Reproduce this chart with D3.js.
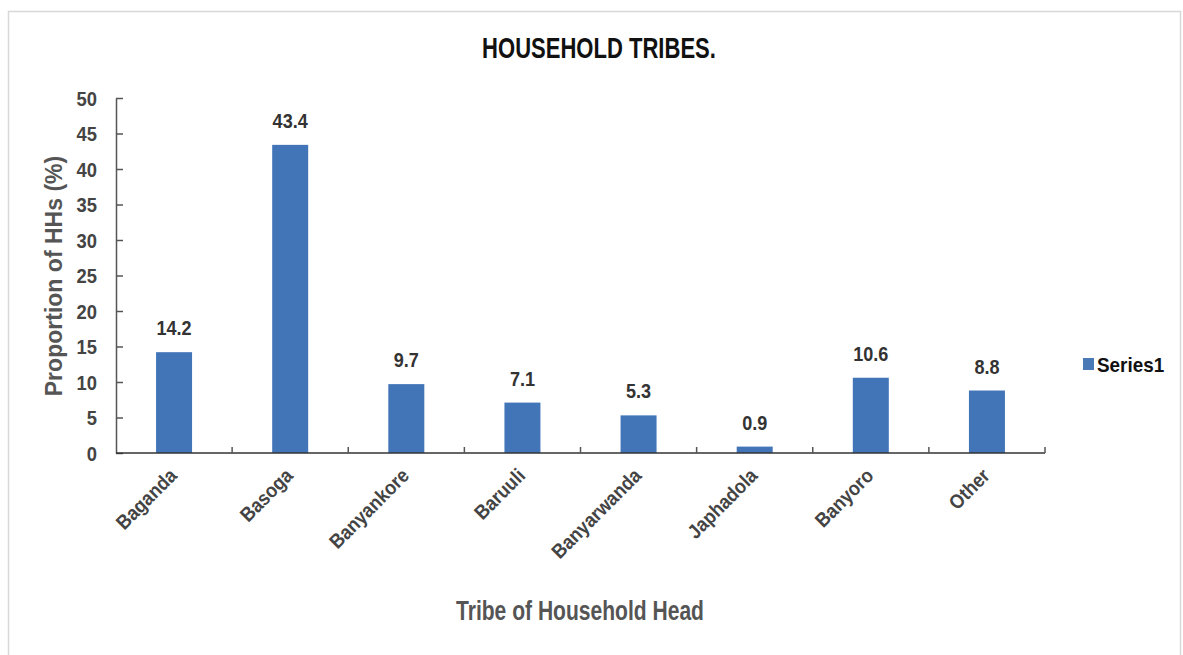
<!DOCTYPE html>
<html>
<head>
<meta charset="utf-8">
<script src="https://cdn.jsdelivr.net/npm/d3@7"></script>
<style>
  body { margin: 0; background: #fff; }
  svg { display: block; }
  text { font-family: "Liberation Sans", Arial, sans-serif; font-weight: bold; }
</style>
</head>
<body>
<div id="chart"></div>
<script>
// chart data
var tribes = ["Baganda", "Basoga", "Banyankore", "Baruuli", "Banyarwanda", "Japhadola", "Banyoro", "Other"];
var proportions = [14.2, 43.4, 9.7, 7.1, 5.3, 0.9, 10.6, 8.8];
var yTicks = [0, 5, 10, 15, 20, 25, 30, 35, 40, 45, 50];
var seriesName = "Series1";

var width = 1183, height = 655;
var margin = {top: 98, left: 116, right: 138, bottom: 202};
var barColour = "#4275b8";

var svg = d3.select("#chart").append("svg")
    .attr("width", width)
    .attr("height", height);

// faint outer frame
svg.append("rect")
    .attr("x", 8.5).attr("y", 11.5)
    .attr("width", 1172).attr("height", 660)
    .style("fill", "none")
    .style("stroke", "#d8d8d8")
    .style("stroke-width", 1.5);

var x = d3.scaleBand()
    .domain(tribes)
    .range([margin.left, width - margin.right])
    .paddingInner(0.69)
    .paddingOuter(0.345);

var y = d3.scaleLinear()
    .domain([0, 50])
    .range([height - margin.bottom, margin.top]);

var g = svg.append("g");

// bars
g.selectAll(".bar")
    .data(tribes)
    .enter().append("rect")
    .attr("class", "bar")
    .attr("x", function(d) { return x(d); })
    .attr("y", function(d, i) { return y(proportions[i]); })
    .attr("width", x.bandwidth())
    .attr("height", function(d, i) { return y(0) - y(proportions[i]); })
    .style("fill", barColour);

// value labels (the source font is a tall, narrow one, so squeeze horizontally)
g.selectAll(".val")
    .data(tribes)
    .enter().append("text")
    .attr("transform", function(d, i) {
      return "translate(" + (x(d) + x.bandwidth() / 2) + "," + (y(proportions[i]) - 17) + ") scale(0.86,1)";
    })
    .attr("text-anchor", "middle")
    .style("font-size", "21px")
    .style("fill", "#333")
    .text(function(d, i) { return proportions[i]; });

// y axis, ticks pointing inward
var yAxis = g.append("g")
    .attr("transform", "translate(" + margin.left + ",0)")
    .call(d3.axisRight(y).tickValues(yTicks).tickSize(7).tickSizeOuter(0));
yAxis.select(".domain").style("stroke", "#555").style("stroke-width", 1.5);
yAxis.selectAll(".tick line").style("stroke", "#555").style("stroke-width", 1.5);
yAxis.selectAll(".tick text")
    .attr("x", 0)
    .attr("dy", "0.36em")
    .attr("transform", "translate(-19,0) scale(0.92,1)")
    .attr("text-anchor", "end")
    .style("font-size", "20px")
    .style("fill", "#444");

// x axis with small upward ticks at the category boundaries
var step = x.step();
var bounds = tribes.map(function(d) { return x(d) + x.bandwidth() / 2 + step / 2; });
var xAxis = g.append("g");
xAxis.append("line")
    .attr("x1", margin.left).attr("x2", width - margin.right)
    .attr("y1", y(0)).attr("y2", y(0))
    .style("stroke", "#333").style("stroke-width", 1.5);
xAxis.selectAll(".xt")
    .data(bounds)
    .enter().append("line")
    .attr("x1", function(d) { return d; }).attr("x2", function(d) { return d; })
    .attr("y1", y(0)).attr("y2", y(0) - 6)
    .style("stroke", "#555").style("stroke-width", 1.5);

// rotated category labels
xAxis.selectAll(".xl")
    .data(tribes)
    .enter().append("text")
    .attr("text-anchor", "end")
    .attr("transform", function(d) {
      return "translate(" + (x(d) + x.bandwidth() / 2 + 4) + "," + (y(0) + 24) + ") rotate(-45) scale(0.9,1)";
    })
    .style("font-size", "20px")
    .style("fill", "#444")
    .text(function(d) { return d; });

// title
svg.append("text")
    .attr("transform", "translate(599,58) scale(0.76,1)")
    .attr("text-anchor", "middle")
    .style("font-size", "29px")
    .style("fill", "#111")
    .text("HOUSEHOLD TRIBES.");

// axis titles
svg.append("text")
    .attr("transform", "translate(62,276) rotate(-90) scale(0.96,1)")
    .attr("text-anchor", "middle")
    .style("font-size", "24px")
    .style("fill", "#555")
    .text("Proportion of HHs (%)");

svg.append("text")
    .attr("transform", "translate(580,620) scale(0.78,1)")
    .attr("text-anchor", "middle")
    .style("font-size", "27px")
    .style("fill", "#555")
    .text("Tribe of Household Head");

// legend
var legend = svg.append("g").attr("transform", "translate(1083,358)");
legend.append("rect")
    .attr("width", 11).attr("height", 12)
    .style("fill", "#4a7ab5");
legend.append("text")
    .attr("transform", "translate(14,14) scale(0.9,1)")
    .style("font-size", "21px")
    .style("fill", "#111")
    .text(seriesName);
</script>
</body>
</html>
